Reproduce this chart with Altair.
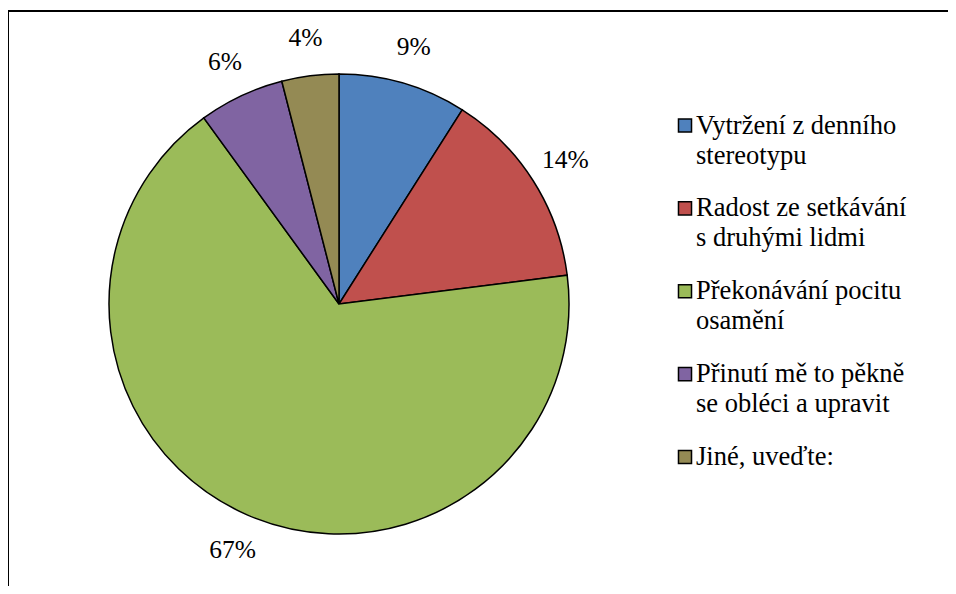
import altair as alt
import pandas as pd

categories = [
    "Vytržení z denního stereotypu",
    "Radost ze setkávání s druhými lidmi",
    "Překonávání pocitu osamění",
    "Přinutí mě to pěkně se obléci a upravit",
    "Jiné, uveďte:",
]
legend_lines = [
    "Vytržení z denního\nstereotypu",
    "Radost ze setkávání\ns druhými lidmi",
    "Překonávání pocitu\nosamění",
    "Přinutí mě to pěkně\nse obléci a upravit",
    "Jiné, uveďte:",
]
values = [9, 14, 67, 6, 4]
pct_labels = ["9%", "14%", "67%", "6%", "4%"]
colors = ["#4F81BD", "#C0504D", "#9BBB59", "#8064A2", "#948A54"]

df = pd.DataFrame({
    "cat": categories,
    "legend": legend_lines,
    "value": values,
    "label": pct_labels,
    "idx": list(range(len(categories))),
})

FONT = "Times New Roman"
CX, CY, R = 331, 296, 230

color_scale = alt.Scale(domain=categories, range=colors)

base = alt.Chart(df).encode(
    theta=alt.Theta("value:Q", stack=True),
    order=alt.Order("idx:Q", sort="ascending"),
)

pie = base.mark_arc(outerRadius=R, stroke="black", strokeWidth=1.5).encode(
    color=alt.Color("cat:N", scale=color_scale, legend=None),
    x=alt.value(CX),
    y=alt.value(CY),
)

labels = base.mark_text(radius=268, font=FONT, fontSize=25.5, color="black").encode(
    text="label:N",
    x=alt.value(CX),
    y=alt.value(CY),
)

yscale = alt.Scale(type="point", domain=categories, range=[117.5, 449], padding=0)

leg_sym = alt.Chart(df).mark_point(
    shape="square", filled=True, size=170, stroke="black", strokeWidth=1.5, opacity=1
).encode(
    x=alt.value(677),
    y=alt.Y("cat:N", scale=yscale, axis=None),
    fill=alt.Color("cat:N", scale=color_scale, legend=None),
)

leg_txt = alt.Chart(df).mark_text(
    align="left", baseline="alphabetic", dy=8, lineBreak="\n", lineHeight=30,
    font=FONT, fontSize=26.5, color="black"
).encode(
    x=alt.value(688),
    y=alt.Y("cat:N", scale=yscale, axis=None),
    text="legend:N",
)

one = pd.DataFrame({"a": [0]})
frame_top = alt.Chart(one).mark_rule(stroke="black", strokeWidth=2).encode(
    x=alt.value(0), x2=alt.value(940), y=alt.value(3)
)
frame_left = alt.Chart(one).mark_rule(stroke="black", strokeWidth=2).encode(
    x=alt.value(0), y=alt.value(3), y2=alt.value(578)
)

chart = alt.layer(frame_top, frame_left, pie, labels, leg_sym, leg_txt).properties(
    width=940, height=578, padding=0,
    autosize=alt.AutoSizeParams(type="none"),
    background="white",
).configure_view(strokeWidth=0, strokeOpacity=0).configure_text(font=FONT)

chart.save("out.html", embed_options={"renderer": "svg", "actions": False})
